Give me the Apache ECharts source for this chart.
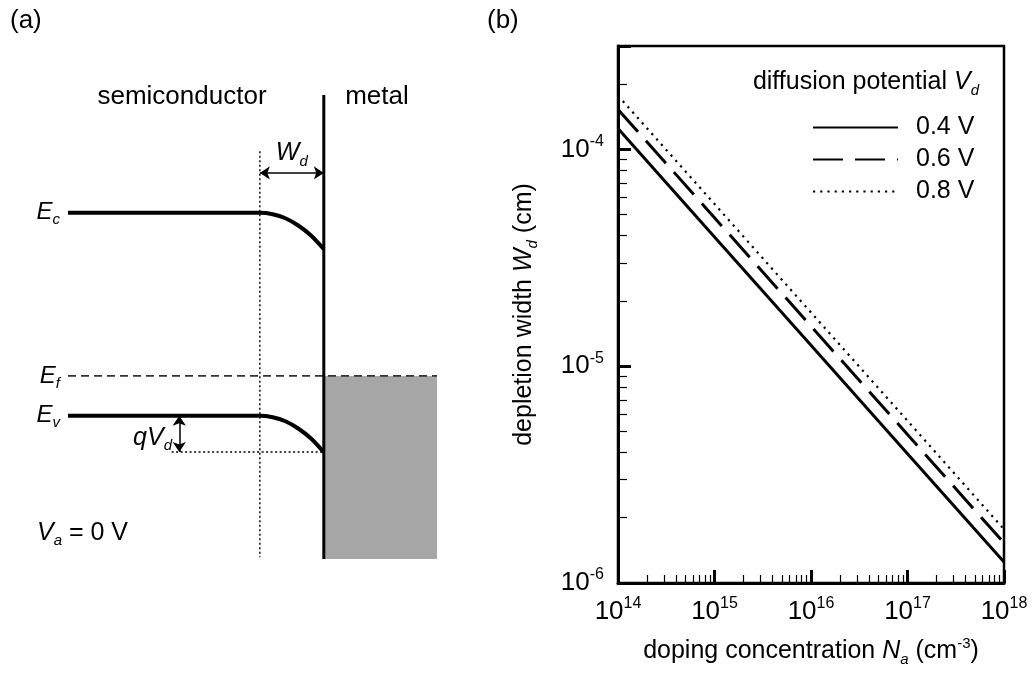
<!DOCTYPE html>
<html>
<head>
<meta charset="utf-8">
<title>Schottky contact / depletion width</title>
<script src="https://cdn.jsdelivr.net/npm/echarts@6.0.0/dist/echarts.min.js"></script>
<style>
    html, body { margin: 0; padding: 0; background: #fff; }
    #chart { width: 1034px; height: 675px; }
</style>
</head>
<body>
<div id="chart"></div>
<script>
// (b) depletion width vs doping concentration
var dopingNa = [1e14, 1e15, 1e16, 1e17, 1e18];
var wd04 = [1.25e-4, 3.95e-5, 1.25e-5, 3.95e-6, 1.25e-6];
var wd06 = [1.53e-4, 4.84e-5, 1.53e-5, 4.84e-6, 1.53e-6];
var wd08 = [1.77e-4, 5.6e-5, 1.77e-5, 5.6e-6, 1.77e-6];
var vdNames = ['0.4 V', '0.6 V', '0.8 V'];

// (a) band diagram: position in units of W_d (metal at 0), energy in eV
var bandX = [-4, -1, -0.8, -0.6, -0.4, -0.2, 0];
var ecBand = [1.12, 1.12, 1.112, 1.09, 1.05, 0.995, 0.92];
var evBand = [0, 0, -0.008, -0.03, -0.07, -0.125, -0.2];
var efX = [-4, 1.77];
var efLevel = 0.22;
var levelValues = [1.12, 0.22, 0];   //E_c, E_f, E_v
var levelNames = ['c', 'f', 'v'];

var FONT = '"Liberation Sans", Arial, Helvetica, sans-serif';

function pairs(xs, ys) {
    var out = [];
    for (var i = 0; i < xs.length; i++) {
        out.push([xs[i], ys[i]]);
    }
    return out;
}

// minor ticks 2..9 of each decade, in log10 space
function minorLogTicks(lo, hi) {
    var out = [];
    for (var e = Math.floor(lo); e < hi; e++) {
        for (var k = 2; k < 10; k++) {
            var v = e + Math.log10(k);
            if (v > lo + 1e-9 && v < hi - 1e-9) out.push(v);
        }
    }
    return out;
}

function expLabel(v) {
    var e = Math.log10(v);
    if (Math.abs(e - Math.round(e)) > 1e-6) return '';
    return '{t|10}{tsup|' + Math.round(e) + '}';
}

var rich = {
    t: { fontSize: 26, lineHeight: 32, fontFamily: FONT, color: '#000', fontWeight: 'normal' },
    tsup: { fontSize: 16, lineHeight: 16, fontFamily: FONT, color: '#000', fontWeight: 'normal', verticalAlign: 'top' },
    n: { fontSize: 25, lineHeight: 31, fontFamily: FONT, color: '#000', fontWeight: 'normal' },
    i: { fontSize: 25, lineHeight: 31, fontFamily: FONT, color: '#000', fontWeight: 'normal', fontStyle: 'italic' },
    sup: { fontSize: 15, lineHeight: 15, fontFamily: FONT, color: '#000', fontWeight: 'normal', verticalAlign: 'top' },
    sub: { fontSize: 15, lineHeight: 15, fontFamily: FONT, color: '#000', fontWeight: 'normal', fontStyle: 'italic', verticalAlign: 'bottom' }
};

var yMaxB = 3e-4;
var minorX = minorLogTicks(14, 18);
var minorY = minorLogTicks(-6, Math.log10(yMaxB));

var myChart = echarts.init(document.getElementById('chart'), null, { renderer: 'canvas' });

var option = {
    animation: false,
    backgroundColor: '#fff',
    title: {
        text: '{n|diffusion potential }{i|V}{sub|d}',
        right: 50,
        top: 62,
        textStyle: { fontWeight: 'normal', rich: rich }
    },
    legend: {
        data: vdNames,
        orient: 'vertical',
        left: 812,
        top: 115,
        padding: 0,
        itemWidth: 85,
        itemHeight: 20,
        itemGap: 7,
        selectedMode: false,
        itemStyle: { opacity: 0 },
        textStyle: { fontSize: 25, fontFamily: FONT, color: '#000', padding: [0, 0, 0, 13] }
    },
    grid: [
        { left: 68, top: 95, width: 369, height: 464, show: false },
        { left: 618, top: 46, right: 30, bottom: 92, show: true, borderColor: '#000', borderWidth: 2.5, backgroundColor: 'transparent' }
    ],
    xAxis: [
        {
            type: 'value', gridIndex: 0, min: -4, max: 1.77,
            axisLine: { show: false, onZero: false }, axisTick: { show: false },
            axisLabel: { show: false }, splitLine: { show: false }
        },
        {
            type: 'log', gridIndex: 1, logBase: 10, min: 1e14, max: 1e18,
            axisLine: { onZero: false, lineStyle: { color: '#000', width: 3 } },
            axisTick: { inside: true, length: 13, lineStyle: { color: '#000', width: 3 } },
            axisLabel: { margin: 13, formatter: expLabel, rich: rich },
            splitLine: { show: false },
            name: '{n|doping concentration }{i|N}{sub|a}{n| (cm}{sup|-3}{n|)}',
            nameLocation: 'middle',
            nameGap: 53,
            nameTextStyle: { rich: rich }
        },
        {
            // minor ticks only
            type: 'value', gridIndex: 1, min: 14, max: 18, position: 'bottom',
            axisLine: { show: false, onZero: false },
            axisTick: { show: true, inside: true, length: 8, customValues: minorX, lineStyle: { color: '#000', width: 1.2 } },
            axisLabel: { show: false }, splitLine: { show: false }
        }
    ],
    yAxis: [
        {
            type: 'value', gridIndex: 0, min: -0.79, max: 1.77,
            axisLine: { show: false, onZero: false }, axisTick: { show: false },
            splitLine: { show: false },
            axisLabel: {
                margin: 8,
                customValues: levelValues,
                formatter: function (v) {
                    for (var i = 0; i < levelValues.length; i++) {
                        if (Math.abs(levelValues[i] - v) < 1e-6) return '{i|E}{sub|' + levelNames[i] + '}';
                    }
                    return '';
                },
                rich: {
                    i: { fontSize: 24, lineHeight: 30, fontFamily: FONT, color: '#000', fontStyle: 'italic' },
                    sub: { fontSize: 15, lineHeight: 15, fontFamily: FONT, color: '#000', fontStyle: 'italic', verticalAlign: 'bottom' }
                }
            }
        },
        {
            type: 'log', gridIndex: 1, logBase: 10, min: 1e-6, max: yMaxB,
            axisLine: { onZero: false, lineStyle: { color: '#000', width: 3 } },
            axisTick: { inside: true, length: 13, lineStyle: { color: '#000', width: 3 } },
            axisLabel: { margin: 14, formatter: expLabel, rich: rich },
            splitLine: { show: false },
            name: '{n|depletion width }{i|W}{sub|d}{n| (cm)}',
            nameLocation: 'middle',
            nameGap: 78,
            nameTextStyle: { rich: rich }
        },
        {
            type: 'value', gridIndex: 1, min: -6, max: Math.log10(yMaxB), position: 'left',
            axisLine: { show: false, onZero: false },
            axisTick: { show: true, inside: true, length: 9, customValues: minorY, lineStyle: { color: '#000', width: 1.2 } },
            axisLabel: { show: false }, splitLine: { show: false }
        }
    ],
    graphic: [
        { type: 'text', x: 10, y: 21, style: { text: '(a)', font: '26px ' + FONT, fill: '#000', verticalAlign: 'middle' } },
        { type: 'text', x: 487, y: 21, style: { text: '(b)', font: '26px ' + FONT, fill: '#000', verticalAlign: 'middle' } },
        { type: 'text', x: 182, y: 97, style: { text: 'semiconductor', font: '26px ' + FONT, fill: '#000', align: 'center', verticalAlign: 'middle' } },
        { type: 'text', x: 377, y: 97, style: { text: 'metal', font: '26px ' + FONT, fill: '#000', align: 'center', verticalAlign: 'middle' } },
        {
            type: 'text', x: 37, y: 533,
            style: { text: '{i|V}{sub|a}{n| = 0 V}', rich: rich, verticalAlign: 'middle' }
        },
        {
            type: 'text', x: 172, y: 438,
            style: { text: '{i|qV}{sub|d}', rich: rich, align: 'right', verticalAlign: 'middle' }
        }
    ],
    series: [
        // metal filled states below E_f
        {
            type: 'line', xAxisIndex: 0, yAxisIndex: 0, symbol: 'none', silent: true,
            data: pairs([0, efX[1]], [efLevel, efLevel]),
            lineStyle: { width: 0, opacity: 0 },
            areaStyle: { color: '#a6a6a6', opacity: 1, origin: 'start' }
        },
        // depletion edge (dotted) + W_d / qV_d arrows
        {
            type: 'line', xAxisIndex: 0, yAxisIndex: 0, symbol: 'none', silent: true,
            data: pairs([-1, -1], [1.46, -0.78]),
            lineStyle: { color: '#000', width: 1.4, type: [2, 2.5] },
            markLine: {
                silent: true,
                symbol: ['arrow', 'arrow'],
                symbolSize: 10,
                precision: 4,
                lineStyle: { color: '#000', width: 1.5, type: 'solid' },
                label: { show: false },
                data: [
                    [
                        { coord: [-1, 1.34], label: { show: true, position: 'middle', distance: 4, formatter: '{i|W}{sub|d}', rich: rich } },
                        { coord: [0, 1.34] }
                    ],
                    [
                        { coord: [-2.26, 0], label: { show: false } },
                        { coord: [-2.26, -0.2] }
                    ]
                ]
            }
        },
        // qV_d reference level (dotted)
        {
            type: 'line', xAxisIndex: 0, yAxisIndex: 0, symbol: 'none', silent: true,
            data: pairs([-2.38, 0], [-0.2, -0.2]),
            lineStyle: { color: '#000', width: 1.4, type: [2, 2.5] }
        },
        // Fermi level
        {
            type: 'line', xAxisIndex: 0, yAxisIndex: 0, symbol: 'none', silent: true,
            data: pairs(efX, [efLevel, efLevel]),
            lineStyle: { color: '#333', width: 1.8, type: [8, 5] }
        },
        // conduction band
        {
            type: 'line', xAxisIndex: 0, yAxisIndex: 0, symbol: 'none', silent: true,
            smooth: 0.3,
            data: pairs(bandX, ecBand),
            lineStyle: { color: '#000', width: 4 }
        },
        // valence band
        {
            type: 'line', xAxisIndex: 0, yAxisIndex: 0, symbol: 'none', silent: true,
            smooth: 0.3,
            data: pairs(bandX, evBand),
            lineStyle: { color: '#000', width: 4 }
        },
        // metal interface
        {
            type: 'line', xAxisIndex: 0, yAxisIndex: 0, symbol: 'none', silent: true,
            data: pairs([0, 0], [1.77, -0.79]),
            lineStyle: { color: '#000', width: 3 }
        },
        // (b) curves
        {
            name: vdNames[0], type: 'line', xAxisIndex: 1, yAxisIndex: 1, symbol: 'none',
            data: pairs(dopingNa, wd04),
            lineStyle: { color: '#000', width: 3, type: 'solid' },
            itemStyle: { color: '#000' }
        },
        {
            name: vdNames[1], type: 'line', xAxisIndex: 1, yAxisIndex: 1, symbol: 'none',
            data: pairs(dopingNa, wd06),
            lineStyle: { color: '#000', width: 3, type: [30, 12] },
            itemStyle: { color: '#000' }
        },
        {
            name: vdNames[2], type: 'line', xAxisIndex: 1, yAxisIndex: 1, symbol: 'none',
            data: pairs(dopingNa, wd08),
            lineStyle: { color: '#000', width: 2.2, type: [2.2, 5] },
            itemStyle: { color: '#000' }
        }
    ]
};

myChart.setOption(option);
</script>
</body>
</html>
